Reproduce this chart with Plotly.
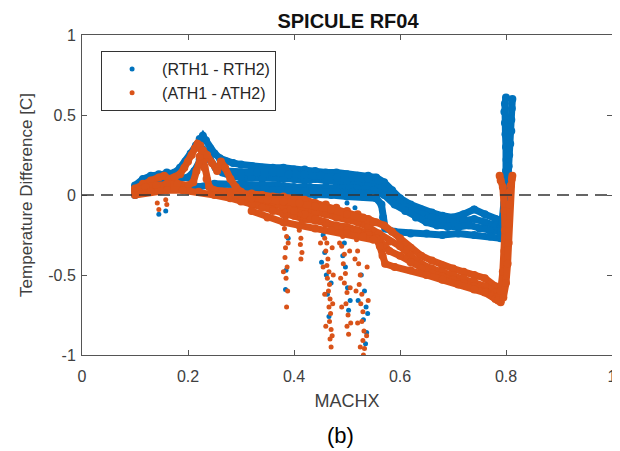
import plotly.graph_objects as go

# ---------------- data ----------------
x_ticks = [0, 0.2, 0.4, 0.6, 0.8, 1]
x_ticklabels = ["0", "0.2", "0.4", "0.6", "0.8", "1"]
y_ticks = [-1, -0.5, 0, 0.5, 1]
y_ticklabels = ["-1", "-0.5", "0", "0.5", "1"]

# RTH1 - RTH2 (blue), several passes through the Mach range
rth_pass1_mach = [0.100, 0.115, 0.130, 0.145, 0.160, 0.175, 0.185, 0.195, 0.205, 0.215, 0.222, 0.228, 0.234, 0.242, 0.250,
                  0.260, 0.272, 0.285, 0.300, 0.320, 0.340, 0.360, 0.380, 0.400, 0.420, 0.440, 0.460, 0.480, 0.500, 0.520,
                  0.540, 0.555, 0.570, 0.585, 0.600, 0.620, 0.640, 0.660, 0.680, 0.700, 0.720, 0.740, 0.760, 0.780, 0.790]
rth_pass1_diff = [0.06, 0.10, 0.12, 0.13, 0.14, 0.14, 0.17, 0.21, 0.26, 0.31, 0.35, 0.37, 0.34, 0.29, 0.26,
                  0.23, 0.21, 0.20, 0.19, 0.18, 0.17, 0.17, 0.17, 0.16, 0.16, 0.15, 0.14, 0.14, 0.13, 0.12,
                  0.12, 0.11, 0.08, 0.03, -0.02, -0.06, -0.09, -0.11, -0.13, -0.14, -0.12, -0.09, -0.12, -0.15, -0.16]

rth_pass2_mach = [0.100, 0.120, 0.140, 0.160, 0.180, 0.200, 0.212, 0.222, 0.232, 0.242, 0.252, 0.265, 0.280, 0.300, 0.320,
                  0.340, 0.360, 0.380, 0.400, 0.420, 0.440, 0.460, 0.480, 0.500, 0.520, 0.540, 0.560, 0.580, 0.600, 0.620,
                  0.640, 0.660, 0.680, 0.700, 0.720, 0.740, 0.760, 0.780, 0.790]
rth_pass2_diff = [0.03, 0.07, 0.09, 0.10, 0.10, 0.11, 0.15, 0.22, 0.27, 0.22, 0.17, 0.14, 0.12, 0.11, 0.11,
                  0.10, 0.11, 0.10, 0.10, 0.09, 0.10, 0.09, 0.08, 0.08, 0.08, 0.07, 0.05, 0.01, -0.05, -0.09,
                  -0.12, -0.14, -0.16, -0.17, -0.16, -0.15, -0.17, -0.19, -0.20]

rth_pass3_mach = [0.100, 0.130, 0.160, 0.190, 0.220, 0.250, 0.280, 0.310, 0.340, 0.370, 0.400, 0.430, 0.460, 0.490,
                  0.520, 0.550, 0.570, 0.590, 0.610, 0.630, 0.650, 0.670, 0.690, 0.710, 0.730, 0.750, 0.770, 0.790]
rth_pass3_diff = [0.00, 0.04, 0.06, 0.05, 0.05, 0.07, 0.07, 0.06, 0.06, 0.06, 0.05, 0.05, 0.05, 0.04,
                  0.04, 0.03, 0.00, -0.06, -0.10, -0.14, -0.17, -0.19, -0.20, -0.20, -0.19, -0.21, -0.22, -0.23]

rth_pass4_mach = [0.260, 0.290, 0.320, 0.350, 0.380, 0.410, 0.440, 0.470, 0.500, 0.530, 0.555, 0.565, 0.568, 0.572,
                  0.590, 0.620, 0.650, 0.680, 0.710, 0.740, 0.770, 0.790]
rth_pass4_diff = [0.03, 0.02, 0.02, 0.01, 0.01, 0.01, 0.00, 0.00, -0.01, -0.01, -0.02, -0.06, -0.14, -0.21,
                  -0.23, -0.24, -0.24, -0.25, -0.24, -0.25, -0.26, -0.27]

rth_pass5_mach = [0.270, 0.300, 0.330, 0.360, 0.390, 0.420, 0.450, 0.480, 0.510, 0.540, 0.560]
rth_pass5_diff = [0.15, 0.14, 0.14, 0.14, 0.13, 0.13, 0.12, 0.11, 0.11, 0.10, 0.09]

rth_pass6_mach = [0.300, 0.330, 0.360, 0.390, 0.420, 0.450, 0.480, 0.510, 0.540]
rth_pass6_diff = [0.040, 0.035, 0.030, 0.030, 0.025, 0.020, 0.020, 0.015, 0.010]

rth_wall1_mach = [0.790, 0.794, 0.797, 0.799, 0.800, 0.801, 0.800, 0.799, 0.798, 0.797, 0.798, 0.800]
rth_wall1_diff = [-0.25, -0.15, -0.05, 0.05, 0.15, 0.22, 0.30, 0.38, 0.45, 0.52, 0.57, 0.61]
rth_wall2_mach = [0.795, 0.799, 0.802, 0.804, 0.805, 0.806, 0.808, 0.810, 0.810, 0.811, 0.812]
rth_wall2_diff = [-0.20, -0.10, 0.00, 0.10, 0.18, 0.25, 0.32, 0.40, 0.47, 0.54, 0.60]

rth_spike_mach = [0.384, 0.385, 0.384, 0.455, 0.458, 0.461, 0.463, 0.466, 0.495, 0.497, 0.501, 0.503,
                  0.527, 0.533, 0.536, 0.531, 0.537, 0.535, 0.425, 0.430, 0.445, 0.500, 0.515, 0.145, 0.158,
                  0.452, 0.470, 0.492, 0.506, 0.521, 0.539, 0.389, 0.412]
rth_spike_diff = [-0.15, -0.47, -0.59, -0.25, -0.36, -0.50, -0.62, -0.76, -0.30, -0.45, -0.58, -0.72,
                  -0.50, -0.60, -0.70, -0.78, -0.86, -0.93, -0.04, -0.08, -0.06, -0.05, -0.08, -0.12, -0.10,
                  -0.42, -0.55, -0.38, -0.66, -0.66, -0.74, -0.27, -0.20]

# ATH1 - ATH2 (orange)
ath_pass1_mach = [0.100, 0.115, 0.130, 0.145, 0.155, 0.165, 0.175, 0.185, 0.193, 0.200, 0.207, 0.213, 0.218, 0.223,
                  0.227, 0.231, 0.235, 0.240, 0.250, 0.265, 0.280, 0.300, 0.320, 0.340, 0.360, 0.380, 0.400, 0.420,
                  0.440, 0.460, 0.480, 0.500, 0.520, 0.540, 0.555, 0.570, 0.585, 0.600, 0.620, 0.640, 0.660, 0.680,
                  0.700, 0.720, 0.740, 0.760, 0.780, 0.790]
ath_pass1_diff = [0.04, 0.07, 0.09, 0.11, 0.12, 0.10, 0.11, 0.13, 0.17, 0.21, 0.25, 0.29, 0.32, 0.31,
                  0.25, 0.17, 0.10, 0.05, 0.03, 0.02, 0.02, 0.01, 0.01, 0.00, -0.01, -0.01, -0.02, -0.03,
                  -0.05, -0.06, -0.08, -0.10, -0.12, -0.15, -0.17, -0.19, -0.23, -0.27, -0.33, -0.38, -0.41, -0.44,
                  -0.46, -0.48, -0.50, -0.52, -0.57, -0.60]

ath_pass2_mach = [0.100, 0.120, 0.140, 0.160, 0.180, 0.200, 0.210, 0.216, 0.222, 0.228, 0.236, 0.245, 0.255, 0.262,
                  0.270, 0.280, 0.290, 0.300, 0.320, 0.340, 0.360, 0.380, 0.400, 0.420, 0.440, 0.460, 0.480, 0.500,
                  0.520, 0.540, 0.560, 0.580, 0.600, 0.620, 0.640, 0.660, 0.680, 0.700, 0.720, 0.740, 0.760, 0.780,
                  0.790]
ath_pass2_diff = [0.02, 0.05, 0.06, 0.07, 0.07, 0.06, 0.08, 0.15, 0.24, 0.28, 0.25, 0.20, 0.15, 0.21,
                  0.17, 0.10, 0.05, 0.02, -0.02, -0.04, -0.06, -0.07, -0.08, -0.09, -0.11, -0.12, -0.14, -0.15,
                  -0.17, -0.20, -0.24, -0.29, -0.32, -0.38, -0.43, -0.46, -0.48, -0.50, -0.52, -0.54, -0.57, -0.61,
                  -0.63]

ath_pass3_mach = [0.100, 0.130, 0.160, 0.190, 0.220, 0.250, 0.280, 0.300, 0.320, 0.340, 0.360, 0.380, 0.400, 0.420,
                  0.440, 0.460, 0.480, 0.500, 0.520, 0.540, 0.560, 0.580, 0.600, 0.620, 0.640, 0.660, 0.680, 0.700,
                  0.720, 0.740, 0.760, 0.780, 0.790]
ath_pass3_diff = [0.00, 0.02, 0.03, 0.03, 0.02, 0.00, -0.02, -0.04, -0.06, -0.08, -0.10, -0.12, -0.13, -0.15,
                  -0.16, -0.18, -0.19, -0.20, -0.22, -0.24, -0.28, -0.35, -0.38, -0.42, -0.46, -0.49, -0.51, -0.53,
                  -0.55, -0.57, -0.60, -0.64, -0.66]

ath_pass4_mach = [0.340, 0.360, 0.380, 0.400, 0.420, 0.440, 0.460, 0.480, 0.500, 0.520, 0.540, 0.555, 0.562, 0.567,
                  0.572, 0.590, 0.620, 0.650, 0.680, 0.710, 0.740, 0.760, 0.780, 0.790]
ath_pass4_diff = [-0.02, -0.04, -0.07, -0.10, -0.12, -0.15, -0.17, -0.20, -0.22, -0.23, -0.25, -0.27, -0.32, -0.38,
                  -0.43, -0.45, -0.47, -0.50, -0.53, -0.56, -0.59, -0.61, -0.65, -0.67]

ath_pass5_mach = [0.290, 0.320, 0.350, 0.380, 0.410, 0.440, 0.470, 0.500, 0.530, 0.550]
ath_pass5_diff = [0.00, -0.02, -0.03, -0.04, -0.05, -0.07, -0.09, -0.12, -0.14, -0.17]

ath_pass6_mach = [0.320, 0.350, 0.380, 0.410, 0.440, 0.470, 0.500, 0.530, 0.550]
ath_pass6_diff = [-0.10, -0.14, -0.17, -0.19, -0.21, -0.22, -0.24, -0.26, -0.28]

ath_wall1_mach = [0.785, 0.790, 0.794, 0.797, 0.798, 0.797, 0.796, 0.794, 0.790, 0.788]
ath_wall1_diff = [-0.66, -0.60, -0.48, -0.35, -0.22, -0.10, 0.00, 0.05, 0.09, 0.12]
ath_wall2_mach = [0.795, 0.800, 0.803, 0.805, 0.805, 0.806, 0.807, 0.809, 0.811, 0.812]
ath_wall2_diff = [-0.64, -0.55, -0.43, -0.30, -0.18, -0.06, 0.02, 0.06, 0.10, 0.12]

ath_spike_mach = [0.383, 0.385, 0.382, 0.386, 0.384, 0.383, 0.387, 0.385, 0.386, 0.389, 0.380, 0.388,
                  0.411, 0.414, 0.410, 0.413, 0.412, 0.415, 0.413,
                  0.455, 0.452, 0.458, 0.462, 0.460, 0.464, 0.462, 0.466, 0.463, 0.467, 0.465, 0.468, 0.466,
                  0.469, 0.467, 0.470, 0.468, 0.470,
                  0.450, 0.472, 0.455, 0.474, 0.458, 0.473, 0.460, 0.472,
                  0.488, 0.492, 0.490, 0.495, 0.493, 0.497, 0.495, 0.500, 0.498, 0.502, 0.500, 0.503,
                  0.486, 0.505, 0.488, 0.506, 0.490, 0.507,
                  0.518, 0.520, 0.522, 0.525, 0.523, 0.528, 0.526, 0.530, 0.528, 0.532, 0.530, 0.533, 0.531,
                  0.515, 0.538, 0.517, 0.540, 0.520, 0.537, 0.525,
                  0.142, 0.145, 0.158, 0.160]
ath_spike_diff = [-0.10, -0.15, -0.21, -0.26, -0.33, -0.39, -0.45, -0.52, -0.70, -0.30, -0.48, -0.60,
                  -0.12, -0.17, -0.22, -0.27, -0.31, -0.36, -0.40,
                  -0.16, -0.22, -0.27, -0.30, -0.35, -0.40, -0.44, -0.48, -0.52, -0.56, -0.60, -0.65, -0.70,
                  -0.74, -0.79, -0.84, -0.90, -0.95,
                  -0.30, -0.33, -0.45, -0.50, -0.62, -0.68, -0.82, -0.88,
                  -0.20, -0.26, -0.32, -0.37, -0.43, -0.49, -0.55, -0.61, -0.68, -0.75, -0.82, -0.87,
                  -0.30, -0.35, -0.52, -0.58, -0.70, -0.80,
                  -0.28, -0.35, -0.43, -0.50, -0.56, -0.62, -0.68, -0.73, -0.79, -0.85, -0.91, -0.96, -1.00,
                  -0.40, -0.45, -0.60, -0.66, -0.80, -0.88, -0.95,
                  -0.05, -0.09, -0.03, -0.06]

BLUE = "#0072BD"
ORANGE = "#D95319"
FONT = "Liberation Sans, Arial, Helvetica, sans-serif"

rth_passes = [(rth_pass1_mach, rth_pass1_diff), (rth_pass2_mach, rth_pass2_diff),
              (rth_pass3_mach, rth_pass3_diff), (rth_pass4_mach, rth_pass4_diff),
              (rth_pass5_mach, rth_pass5_diff), (rth_pass6_mach, rth_pass6_diff),
              (rth_wall1_mach, rth_wall1_diff), (rth_wall2_mach, rth_wall2_diff)]
ath_passes = [(ath_pass1_mach, ath_pass1_diff), (ath_pass2_mach, ath_pass2_diff),
              (ath_pass3_mach, ath_pass3_diff), (ath_pass4_mach, ath_pass4_diff),
              (ath_pass5_mach, ath_pass5_diff), (ath_pass6_mach, ath_pass6_diff),
              (ath_wall1_mach, ath_wall1_diff), (ath_wall2_mach, ath_wall2_diff)]

fig = go.Figure()


def add_series(passes, spike_x, spike_y, color):
    for px, py in passes:
        fig.add_trace(go.Scatter(x=px, y=py, mode="lines+markers", showlegend=False,
                                 line=dict(color=color, width=7), marker=dict(color=color, size=8),
                                 hoverinfo="skip"))
    fig.add_trace(go.Scatter(x=spike_x, y=spike_y, mode="markers", showlegend=False,
                             marker=dict(color=color, size=5), hoverinfo="skip"))


add_series(rth_passes, rth_spike_mach, rth_spike_diff, BLUE)
add_series(ath_passes, ath_spike_mach, ath_spike_diff, ORANGE)

# legend entries (dots only)
for color, name in [(BLUE, "(RTH1 - RTH2)"), (ORANGE, "(ATH1 - ATH2)")]:
    fig.add_trace(go.Scatter(x=[None], y=[None], mode="markers", name=name,
                             marker=dict(color=color, size=5)))

fig.add_hline(y=0, line=dict(color="#333333", width=1.5, dash="12px,7px"), layer="above")

axis_common = dict(ticks="inside", ticklen=5, tickcolor="#555555", showline=True, linecolor="#555555",
                   linewidth=1, mirror="ticks", showgrid=False, zeroline=False, automargin=False,
                   tickfont=dict(family=FONT, size=16, color="#404040"))

# the page body has an 8px margin, so the figure is 8px smaller than the window
fig.update_layout(
    width=612, height=443,
    margin=dict(l=74, r=8, t=27, b=96),
    paper_bgcolor="white", plot_bgcolor="white",
    font=dict(family=FONT),
    title=dict(text="<b>SPICULE RF04</b>", x=340 / 612, xanchor="center", y=1 - 13 / 443, yanchor="middle",
               font=dict(family=FONT, size=20, color="#111111")),
    xaxis=dict(range=[0, 1], tickvals=x_ticks, ticktext=x_ticklabels, ticklabelstandoff=7,
               title=dict(text="MACHX", standoff=10, font=dict(family=FONT, size=18, color="#404040")),
               **axis_common),
    yaxis=dict(range=[-1, 1], tickvals=y_ticks, ticktext=y_ticklabels, ticklabelstandoff=2,
               title=dict(text="Temperature Difference [C]", standoff=11,
                          font=dict(family=FONT, size=17, color="#404040")),
               **axis_common),
    legend=dict(x=0.036, y=0.95, xanchor="left", yanchor="top", bgcolor="white",
                bordercolor="#333333", borderwidth=1, itemwidth=50,
                font=dict(family=FONT, size=16, color="#262626"), tracegroupgap=0),
    annotations=[dict(text="(b)", x=(332 - 74) / 530, y=(347 - 427) / 320, xref="paper", yref="paper",
                      xanchor="center", yanchor="middle", showarrow=False,
                      font=dict(family=FONT, size=22, color="black"))],
)

fig.write_html("out.html")
